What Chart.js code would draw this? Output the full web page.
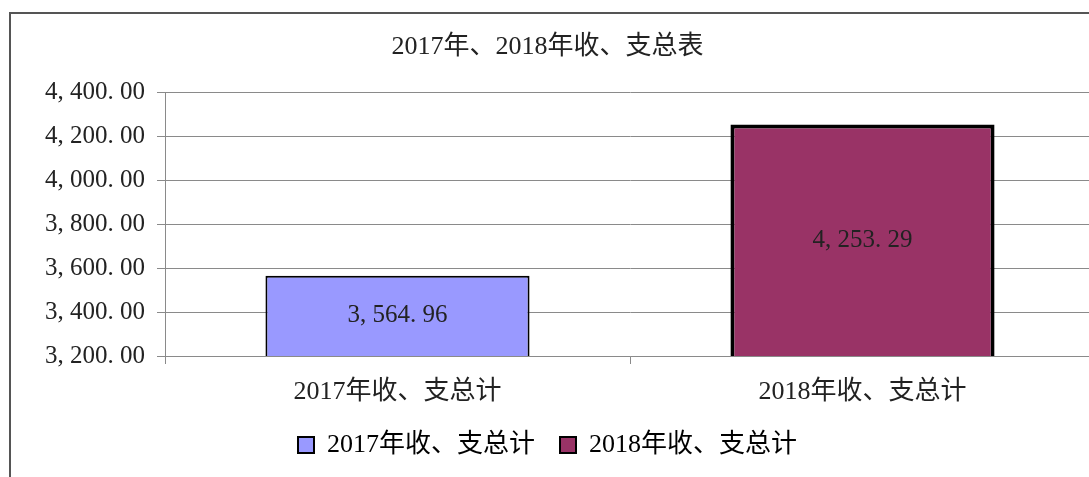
<!DOCTYPE html>
<html>
<head>
<meta charset="utf-8">
<script src="https://cdn.jsdelivr.net/npm/chart.js@4/dist/chart.umd.min.js"></script>
<style>
    html, body { margin: 0; padding: 0; background: #fff; overflow: hidden; }
    #frame { position: absolute; left: 9px; top: 12px; width: 1200px; height: 600px; border: 2px solid #555; }
    #chart { position: absolute; left: 0; top: 0; }
</style>
</head>
<body>
<div id="frame"></div>
<canvas id="chart" width="1100" height="500"></canvas>
<script>
const title = '2017年、2018年收、支总表';
const categories = ['2017年收、支总计', '2018年收、支总计'];
const totals = [3564.96, 4253.29];
const barColors = ['#9999ff', '#993366'];
const borderWidths = [2, 4];
const yMin = 3200;
const yMax = 4400;
const yStep = 200;

const serif = "'Liberation Serif', 'Noto Sans CJK SC', serif";
const textColor = '#222';
const gridColor = '#8a8a8a';

// 4,400.00 -> "4, 400. 00" like the wide punctuation in the picture
function fmt(v) {
    return v.toLocaleString('en-US', { minimumFractionDigits: 2, maximumFractionDigits: 2 })
        .replace(',', ', ').replace('.', '. ');
}

// value in the middle of each bar (base of the bar is the axis bottom, not zero)
const valueLabels = {
    id: 'valueLabels',
    afterDatasetsDraw(chart) {
        const c = chart.ctx;
        const bottom = chart.chartArea.bottom;
        const meta = chart.getDatasetMeta(0);
        c.save();
        c.font = '25px ' + serif;
        c.fillStyle = textColor;
        c.textAlign = 'center';
        c.textBaseline = 'middle';
        meta.data.forEach(function (bar, i) {
            const base = Math.min(bar.base, bottom);
            c.fillText(fmt(totals[i]), bar.x, (bar.y + base) / 2);
        });
        c.restore();
    }
};

var chart = new Chart(document.getElementById('chart'), {
    type: 'bar',
    data: {
        labels: categories,
        datasets: [{
            label: title,
            data: totals,
            backgroundColor: barColors,
            borderColor: '#000',
            borderWidth: borderWidths,
            categoryPercentage: 1,
            barPercentage: 0.568,
        }],
    },
    options: {
        responsive: false,
        animation: false,
        devicePixelRatio: 1,
        layout: { padding: { left: 0, right: 5, top: 0, bottom: 32 } },
        plugins: {
            title: {
                display: true,
                text: title,
                color: textColor,
                font: { family: serif, size: 26, weight: 'normal' },
                padding: { top: 32, bottom: 29 },
            },
            legend: {
                position: 'bottom',
                labels: {
                    color: textColor,
                    font: { family: serif, size: 26 },
                    boxWidth: 16,
                    boxHeight: 16,
                    padding: 25,
                    generateLabels: function () {
                        return categories.map(function (c, i) {
                            return {
                                text: c,
                                fillStyle: barColors[i],
                                strokeStyle: '#000',
                                lineWidth: 2,
                                index: i,
                            };
                        });
                    },
                },
            },
            tooltip: { enabled: false },
        },
        scales: {
            x: {
                offset: true,
                grid: { display: true, drawOnChartArea: false, drawTicks: true, tickLength: 8, color: gridColor, offset: true },
                border: { color: gridColor },
                ticks: { color: textColor, font: { family: serif, size: 26 }, padding: 13 },
                afterFit: function (scale) { scale.height = 51; },
            },
            y: {
                min: yMin,
                max: yMax,
                grid: { color: gridColor, tickLength: 8 },
                border: { color: gridColor },
                ticks: {
                    stepSize: yStep,
                    color: textColor,
                    font: { family: serif, size: 25 },
                    padding: 12,
                    callback: function (v) { return fmt(v); },
                },
                afterFit: function (scale) { scale.width = 165; },
            },
        },
    },
    plugins: [valueLabels],
});
</script>
</body>
</html>
